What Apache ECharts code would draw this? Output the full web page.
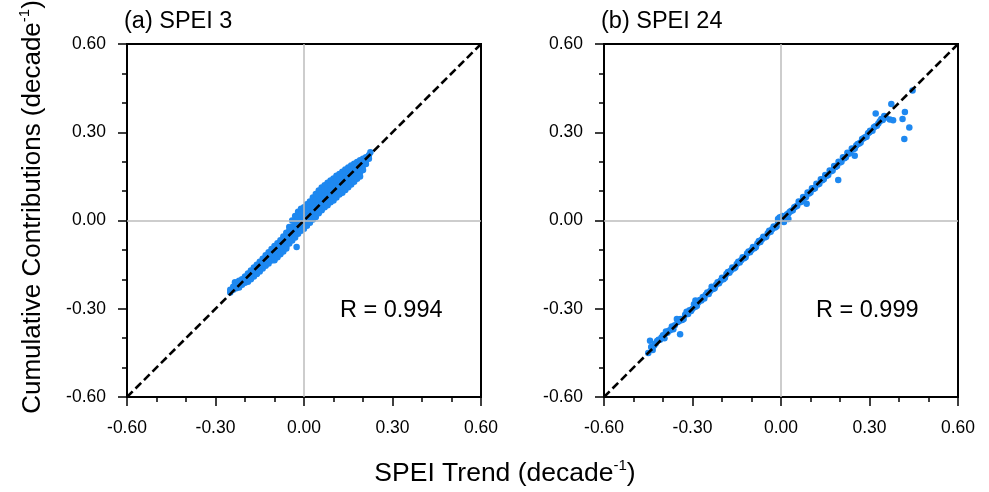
<!DOCTYPE html>
<html>
<head>
<meta charset="utf-8">
<script src="https://cdn.jsdelivr.net/npm/echarts@6/dist/echarts.min.js"></script>
<style>
  html, body { margin: 0; padding: 0; background: #fff; }
  #chart { width: 989px; height: 492px; }
</style>
</head>
<body>
<div id="chart"></div>
<script>
// axis ticks (both axes, both panels)
var tickValues = [-0.6, -0.3, 0.0, 0.3, 0.6]
var panelTitles = ['(a) SPEI 3', '(b) SPEI 24']
var rLabels = ['R = 0.994', 'R = 0.999']
var diagLine = [[-0.6, -0.6], [0.6, 0.6]]

// (a) SPEI 3 : [trend, cumulative contribution]
var spei3 = [
  [-0.25, -0.245], [-0.25, -0.235], [-0.24, -0.235], [-0.24, -0.225], [-0.234, -0.21],
  [-0.23, -0.23], [-0.23, -0.22], [-0.22, -0.215], [-0.22, -0.228], [-0.22, -0.205],
  [-0.21, -0.2], [-0.21, -0.218], [-0.21, -0.208], [-0.2, -0.19], [-0.2, -0.212], [-0.2, -0.2],
  [-0.19, -0.18], [-0.19, -0.2], [-0.19, -0.19], [-0.19, -0.208],
  [-0.18, -0.17], [-0.18, -0.19], [-0.18, -0.18], [-0.18, -0.2],
  [-0.17, -0.16], [-0.17, -0.175], [-0.17, -0.19], [-0.17, -0.188],
  [-0.16, -0.15], [-0.16, -0.165], [-0.16, -0.18], [-0.16, -0.182],
  [-0.15, -0.14], [-0.15, -0.155], [-0.15, -0.167], [-0.15, -0.173],
  [-0.14, -0.13], [-0.14, -0.145], [-0.14, -0.157], [-0.14, -0.163],
  [-0.13, -0.118], [-0.13, -0.13], [-0.13, -0.145], [-0.13, -0.154],
  [-0.12, -0.108], [-0.12, -0.12], [-0.12, -0.135], [-0.12, -0.146],
  [-0.11, -0.097], [-0.11, -0.11], [-0.11, -0.125], [-0.11, -0.136],
  [-0.1, -0.087], [-0.1, -0.1], [-0.1, -0.115], [-0.1, -0.128], [-0.1, -0.135],
  [-0.09, -0.077], [-0.09, -0.09], [-0.09, -0.105], [-0.09, -0.118], [-0.09, -0.125],
  [-0.08, -0.067], [-0.08, -0.08], [-0.08, -0.095], [-0.08, -0.108], [-0.08, -0.115],
  [-0.07, -0.054], [-0.07, -0.07], [-0.07, -0.085], [-0.07, -0.098], [-0.07, -0.105],
  [-0.06, -0.042], [-0.06, -0.055], [-0.06, -0.072], [-0.06, -0.088], [-0.06, -0.095],
  [-0.05, -0.022], [-0.05, -0.035], [-0.05, -0.05], [-0.05, -0.065], [-0.05, -0.078],
  [-0.04, 0.0], [-0.04, -0.02], [-0.04, -0.04], [-0.04, -0.055], [-0.04, -0.068],
  [-0.03, 0.015], [-0.03, -0.005], [-0.03, -0.025], [-0.03, -0.045], [-0.03, -0.058],
  [-0.02, 0.03], [-0.02, 0.01], [-0.02, -0.01], [-0.02, -0.03], [-0.02, -0.045],
  [-0.01, 0.04], [-0.01, 0.02], [-0.01, 0.0], [-0.01, -0.02], [-0.01, -0.035],
  [0.0, 0.045], [0.0, 0.025], [0.0, 0.005], [0.0, -0.015], [0.0, -0.028],
  [0.01, 0.055], [0.01, 0.035], [0.01, 0.015], [0.01, -0.005], [0.01, -0.018],
  [0.02, 0.065], [0.02, 0.045], [0.02, 0.025], [0.02, 0.005], [0.02, -0.008],
  [0.03, 0.078], [0.03, 0.06], [0.03, 0.04], [0.03, 0.02], [0.03, 0.003],
  [0.04, 0.09], [0.04, 0.07], [0.04, 0.05], [0.04, 0.03], [0.04, 0.012],
  [0.05, 0.102], [0.05, 0.085], [0.05, 0.065], [0.05, 0.045], [0.05, 0.025],
  [0.06, 0.112], [0.06, 0.095], [0.06, 0.075], [0.06, 0.055], [0.06, 0.035],
  [0.07, 0.12], [0.07, 0.105], [0.07, 0.085], [0.07, 0.065], [0.07, 0.045],
  [0.08, 0.128], [0.08, 0.11], [0.08, 0.09], [0.08, 0.07], [0.08, 0.052],
  [0.09, 0.136], [0.09, 0.12], [0.09, 0.1], [0.09, 0.08], [0.09, 0.062],
  [0.1, 0.143], [0.1, 0.125], [0.1, 0.105], [0.1, 0.085], [0.1, 0.068],
  [0.11, 0.152], [0.11, 0.135], [0.11, 0.115], [0.11, 0.095], [0.11, 0.078],
  [0.12, 0.158], [0.12, 0.14], [0.12, 0.12], [0.12, 0.1], [0.12, 0.088],
  [0.13, 0.166], [0.13, 0.15], [0.13, 0.13], [0.13, 0.11], [0.13, 0.094],
  [0.14, 0.173], [0.14, 0.158], [0.14, 0.14], [0.14, 0.12], [0.14, 0.104],
  [0.15, 0.18], [0.15, 0.165], [0.15, 0.148], [0.15, 0.13], [0.15, 0.113],
  [0.16, 0.187], [0.16, 0.172], [0.16, 0.155], [0.16, 0.138], [0.16, 0.122],
  [0.17, 0.193], [0.17, 0.18], [0.17, 0.162], [0.17, 0.145], [0.17, 0.132],
  [0.18, 0.199], [0.18, 0.186], [0.18, 0.17], [0.18, 0.154], [0.18, 0.142],
  [0.19, 0.205], [0.19, 0.192], [0.19, 0.178], [0.19, 0.163], [0.19, 0.15],
  [0.2, 0.21], [0.2, 0.2], [0.2, 0.186], [0.2, 0.172],
  [0.21, 0.215], [0.21, 0.205], [0.21, 0.192],
  [0.22, 0.222], [0.22, 0.21], [0.225, 0.232],
  [-0.025, -0.09]
]

// (b) SPEI 24
var spei24 = [
  [-0.45, -0.45], [-0.444, -0.409], [-0.44, -0.43], [-0.435, -0.44], [-0.43, -0.425],
  [-0.425, -0.418], [-0.42, -0.41], [-0.415, -0.405], [-0.41, -0.405], [-0.405, -0.398],
  [-0.4, -0.39], [-0.395, -0.4], [-0.39, -0.377], [-0.385, -0.382], [-0.38, -0.375],
  [-0.375, -0.372], [-0.37, -0.36], [-0.365, -0.37], [-0.36, -0.356], [-0.353, -0.335],
  [-0.35, -0.345], [-0.345, -0.342], [-0.342, -0.387], [-0.34, -0.335], [-0.335, -0.338],
  [-0.33, -0.335], [-0.325, -0.32], [-0.32, -0.31], [-0.315, -0.318], [-0.31, -0.305],
  [-0.305, -0.308], [-0.3, -0.3], [-0.295, -0.285], [-0.29, -0.272], [-0.29, -0.293],
  [-0.285, -0.29], [-0.28, -0.278], [-0.275, -0.27], [-0.27, -0.272], [-0.265, -0.26],
  [-0.26, -0.265], [-0.255, -0.252], [-0.25, -0.245], [-0.245, -0.25], [-0.24, -0.24],
  [-0.235, -0.225], [-0.23, -0.233], [-0.225, -0.23], [-0.22, -0.218], [-0.215, -0.21],
  [-0.21, -0.213], [-0.205, -0.205], [-0.2, -0.195], [-0.195, -0.2], [-0.19, -0.195],
  [-0.185, -0.182], [-0.18, -0.175], [-0.175, -0.178], [-0.17, -0.17], [-0.165, -0.16],
  [-0.16, -0.163], [-0.155, -0.16], [-0.15, -0.148], [-0.145, -0.14], [-0.14, -0.143],
  [-0.135, -0.135], [-0.13, -0.125], [-0.125, -0.128], [-0.12, -0.125], [-0.115, -0.112],
  [-0.11, -0.105], [-0.105, -0.108], [-0.1, -0.1], [-0.095, -0.09], [-0.09, -0.094],
  [-0.085, -0.09], [-0.08, -0.078], [-0.075, -0.07], [-0.07, -0.073], [-0.065, -0.065],
  [-0.06, -0.055], [-0.055, -0.058], [-0.05, -0.055], [-0.045, -0.043], [-0.04, -0.035],
  [-0.035, -0.038], [-0.03, -0.03], [-0.025, -0.02], [-0.02, -0.024], [-0.015, -0.02],
  [-0.01, -0.005], [-0.01, 0.005], [-0.005, 0.01], [0.0, 0.0], [0.0, 0.012],
  [0.005, 0.015], [0.01, -0.005], [0.01, 0.008], [0.015, 0.01], [0.02, 0.02],
  [0.025, 0.005], [0.025, 0.024], [0.03, 0.03], [0.035, 0.033], [0.04, 0.035],
  [0.045, 0.045], [0.05, 0.048], [0.055, 0.05], [0.06, 0.065], [0.065, 0.062],
  [0.07, 0.065], [0.075, 0.08], [0.08, 0.077], [0.085, 0.08], [0.087, 0.057],
  [0.09, 0.095], [0.095, 0.092], [0.1, 0.095], [0.105, 0.11], [0.11, 0.107],
  [0.115, 0.11], [0.12, 0.125], [0.125, 0.122], [0.13, 0.125], [0.135, 0.14],
  [0.14, 0.137], [0.145, 0.14], [0.15, 0.155], [0.155, 0.152], [0.16, 0.155],
  [0.165, 0.17], [0.17, 0.167], [0.175, 0.17], [0.18, 0.185], [0.185, 0.182],
  [0.19, 0.185], [0.194, 0.138], [0.195, 0.2], [0.2, 0.197], [0.205, 0.2],
  [0.21, 0.215], [0.215, 0.212], [0.22, 0.215], [0.225, 0.23], [0.23, 0.227],
  [0.235, 0.23], [0.24, 0.245], [0.245, 0.242], [0.25, 0.22], [0.25, 0.245],
  [0.255, 0.255], [0.26, 0.26], [0.265, 0.262], [0.27, 0.265], [0.275, 0.277],
  [0.28, 0.28], [0.285, 0.283], [0.29, 0.285], [0.295, 0.297], [0.3, 0.3],
  [0.302, 0.305], [0.31, 0.305], [0.315, 0.317], [0.32, 0.32], [0.321, 0.364],
  [0.325, 0.322], [0.33, 0.33], [0.335, 0.337], [0.34, 0.345], [0.345, 0.342],
  [0.35, 0.355], [0.355, 0.35], [0.369, 0.343], [0.374, 0.396], [0.38, 0.341],
  [0.412, 0.345], [0.418, 0.277], [0.42, 0.369], [0.435, 0.316], [0.446, 0.442]
]

var font = 'Liberation Sans, Arial, Helvetica, sans-serif'
var dotColor = '#1e88f0'

function makeAxis(gridIndex, isY) {
  return {
    type: 'value',
    gridIndex: gridIndex,
    min: tickValues[0],
    max: tickValues[tickValues.length - 1],
    interval: 0.3,
    axisLine: { show: true, onZero: false, lineStyle: { color: '#000', width: 2 } },
    axisTick: { show: true, inside: false, length: 9, lineStyle: { color: '#000', width: 1.5 } },
    minorTick: { show: true, splitNumber: 3, length: 5, lineStyle: { color: '#000', width: 1.5 } },
    splitLine: { show: false },
    axisLabel: {
      color: '#000',
      fontFamily: font,
      fontSize: 17.5,
      margin: isY ? 21 : 22,
      formatter: function (v) { return v.toFixed(2) }
    }
  }
}

function panelSeries(idx, data) {
  return [
    {
      type: 'line',
      xAxisIndex: idx,
      yAxisIndex: idx,
      data: [],
      silent: true,
      z: 1,
      markLine: {
        symbol: 'none',
        silent: true,
        label: { show: false },
        lineStyle: { color: '#bdbdbd', width: 1.5, type: 'solid' },
        data: [{ xAxis: 0 }, { yAxis: 0 }]
      }
    },
    {
      type: 'scatter',
      xAxisIndex: idx,
      yAxisIndex: idx,
      data: data,
      symbolSize: 6.5,
      itemStyle: { color: dotColor, opacity: 1 },
      z: 2
    },
    {
      type: 'line',
      xAxisIndex: idx,
      yAxisIndex: idx,
      data: diagLine,
      showSymbol: false,
      silent: true,
      lineStyle: { color: '#000', width: 2.6, type: [8, 4] },
      z: 3
    }
  ]
}

var myChart = echarts.init(document.getElementById('chart'), null, { renderer: 'canvas' })
myChart.setOption({
  animation: false,
  backgroundColor: '#fff',
  grid: [
    { left: 127, top: 44, width: 354, height: 353, show: true, borderColor: '#000', borderWidth: 2 },
    { left: 604, top: 44, width: 354, height: 353, show: true, borderColor: '#000', borderWidth: 2 }
  ],
  xAxis: [makeAxis(0, false), makeAxis(1, false)],
  yAxis: [makeAxis(0, true), makeAxis(1, true)],
  series: panelSeries(0, spei3).concat(panelSeries(1, spei24)),
  graphic: [
    {
      type: 'text', left: 124, top: 10,
      style: { text: panelTitles[0], fontFamily: font, fontSize: 23.5, fill: '#000' }
    },
    {
      type: 'text', left: 601, top: 10,
      style: { text: panelTitles[1], fontFamily: font, fontSize: 23.5, fill: '#000' }
    },
    {
      type: 'text', left: 340, top: 299,
      style: { text: rLabels[0], fontFamily: font, fontSize: 23.5, fill: '#000' }
    },
    {
      type: 'text', left: 816, top: 299,
      style: { text: rLabels[1], fontFamily: font, fontSize: 23.5, fill: '#000' }
    },
    {
      type: 'text', x: 505, y: 474,
      style: {
        text: '{a|SPEI Trend (decade}{s|-1}{a|)}',
        align: 'center', verticalAlign: 'middle',
        rich: {
          a: { fontFamily: font, fontSize: 26.5, fill: '#000', lineHeight: 32 },
          s: { fontFamily: font, fontSize: 15, fill: '#000', verticalAlign: 'top', lineHeight: 32 }
        }
      }
    },
    {
      type: 'text', x: 33, y: 207, rotation: Math.PI / 2,
      style: {
        text: '{a|Cumulative Contributions (decade}{s|-1}{a|)}',
        align: 'center', verticalAlign: 'middle',
        rich: {
          a: { fontFamily: font, fontSize: 26, fill: '#000', lineHeight: 32 },
          s: { fontFamily: font, fontSize: 15, fill: '#000', verticalAlign: 'top', lineHeight: 32 }
        }
      }
    }
  ]
})
</script>
</body>
</html>
